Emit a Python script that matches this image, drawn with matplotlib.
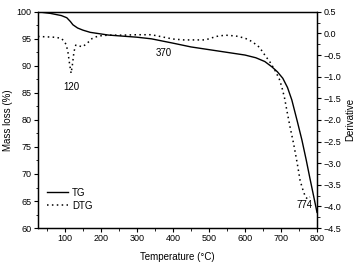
import matplotlib
matplotlib.use("Agg")
import matplotlib.pyplot as plt
from matplotlib.ticker import MultipleLocator

plt.rcParams['font.family'] = ['Liberation Sans', 'DejaVu Sans']

# TG curve (left axis, mass %)
tg_temp = [25, 60, 90, 105, 115, 122, 135, 150, 170, 190, 220, 260, 300, 340,
           370, 400, 450, 500, 550, 600, 630, 655, 675, 690, 705, 718, 730, 745,
           758, 770, 780, 790, 800]
tg_mass = [100, 99.7, 99.3, 98.9, 98.2, 97.6, 97.0, 96.6, 96.2, 96.0, 95.7, 95.5,
           95.3, 95.0, 94.6, 94.2, 93.5, 93.0, 92.5, 92.0, 91.5, 90.8, 89.8, 88.9,
           87.7, 86.0, 83.7, 79.8, 76.3, 72.6, 69.3, 66.1, 62.9]

# DTG curve (right axis, derivative)
dtg_temp = [25, 50, 75, 91, 103, 108, 113, 117, 121, 125, 130, 140, 148, 160, 175,
            192, 220, 260, 300, 340, 370, 400, 430, 490, 520, 545, 575, 600, 620,
            640, 655, 670, 683, 695, 702, 710, 716, 725, 735, 745, 753, 762, 768,
            774, 780]
dtg_val = [-0.07, -0.08, -0.09, -0.12, -0.25, -0.42, -0.72, -0.92, -0.70, -0.42,
           -0.27, -0.29, -0.31, -0.24, -0.12, -0.06, -0.04, -0.04, -0.03, -0.03,
           -0.08, -0.13, -0.15, -0.15, -0.07, -0.04, -0.06, -0.11, -0.19, -0.32,
           -0.50, -0.67, -0.85, -1.05, -1.23, -1.50, -1.77, -2.16, -2.55, -3.00,
           -3.40, -3.65, -3.78, -3.83, -3.78]

peak_labels = ["120", "370", "774"]

fig = plt.figure(figsize=(3.55, 2.68), dpi=100)
ax = fig.add_axes([0.107, 0.149, 0.786, 0.807])
ax2 = ax.twinx()

l1, = ax.plot(tg_temp, tg_mass, color='black', lw=1.0, label='TG')
l2, = ax2.plot(dtg_temp, dtg_val, color='black', lw=1.1, ls=(0, (1, 2.2)), label='DTG')

ax.set_xlim(25, 800)
ax.set_ylim(60, 100)
ax2.set_ylim(-4.5, 0.5)

ax.xaxis.set_major_locator(MultipleLocator(100))
ax.xaxis.set_minor_locator(MultipleLocator(50))
ax.yaxis.set_major_locator(MultipleLocator(5))
ax.yaxis.set_minor_locator(MultipleLocator(2.5))
ax2.yaxis.set_major_locator(MultipleLocator(0.5))
ax2.yaxis.set_minor_locator(MultipleLocator(0.25))

fs = 6.5
for a in (ax, ax2):
    a.tick_params(which='major', direction='out', length=3, width=0.8, labelsize=fs, pad=1.5)
    a.tick_params(which='minor', direction='out', length=1.8, width=0.6)
    for s in a.spines.values():
        s.set_linewidth(0.9)

ax.set_xlabel('Temperature (°C)', fontsize=7, labelpad=6)
ax.set_ylabel('Mass loss (%)', fontsize=7, labelpad=3)
ax2.set_ylabel('Derivative', fontsize=7, labelpad=3)

ax2.text(118, -1.24, peak_labels[0], fontsize=7, ha='center', va='center')
ax2.text(373, -0.46, peak_labels[1], fontsize=7, ha='center', va='center')
ax2.text(764, -3.96, peak_labels[2], fontsize=7, ha='center', va='center')

ax.legend(handles=[l1, l2], loc='lower left', bbox_to_anchor=(0.0, 0.04), frameon=False,
          fontsize=7, handlelength=2.2, handletextpad=0.4, labelspacing=0.3)

fig.savefig('out.png', dpi=100)
